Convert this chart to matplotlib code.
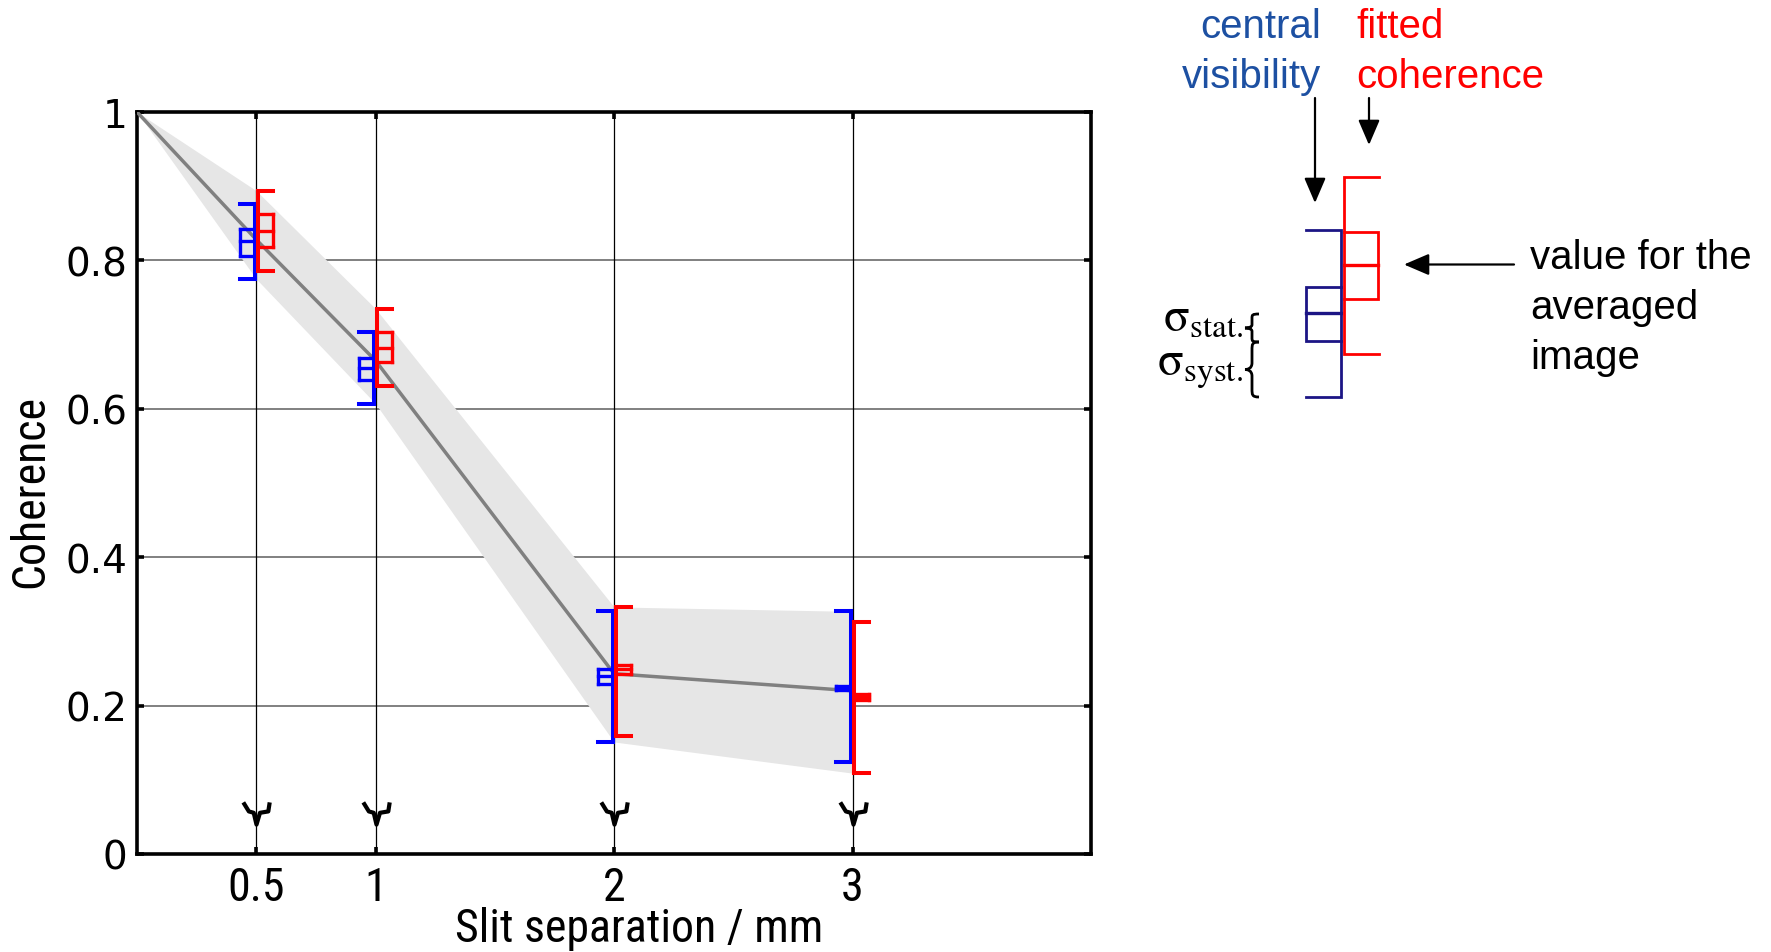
import numpy as np
import matplotlib
matplotlib.use('Agg')
from matplotlib import pyplot as plt
import matplotlib.font_manager as fm
from matplotlib.path import Path
from matplotlib.patches import PathPatch

# measured coherence at each slit separation (mm)
slit_mm = [0.5, 1, 2, 3]

# central visibility (blue): value, statistical box, systematic whiskers
vis_value = [0.826, 0.655, 0.240, 0.224]
vis_stat_lo = [0.806, 0.639, 0.229, 0.221]
vis_stat_hi = [0.842, 0.669, 0.250, 0.227]
vis_syst_lo = [0.775, 0.607, 0.151, 0.124]
vis_syst_hi = [0.876, 0.703, 0.327, 0.327]

# fitted coherence (red)
fit_value = [0.840, 0.682, 0.249, 0.211]
fit_stat_lo = [0.818, 0.663, 0.243, 0.207]
fit_stat_hi = [0.863, 0.703, 0.255, 0.216]
fit_syst_lo = [0.786, 0.631, 0.159, 0.109]
fit_syst_hi = [0.894, 0.735, 0.333, 0.313]

# grey model curve, starts at full coherence for zero separation
model_x = [0, 0.5, 1, 2, 3]
model_y = [1, 0.828, 0.665, 0.243, 0.220]

x_ticks = [0.5, 1, 2, 3]
x_labels = ['0.5', '1', '2', '3']
y_ticks = [0, 0.2, 0.4, 0.6, 0.8, 1]
y_labels = ['0', '0.2', '0.4', '0.6', '0.8', '1']

# pick a narrow sans font if there is one
names = {f.name for f in fm.fontManager.ttflist}
narrow = 'Liberation Sans'
for n in ['Liberation Sans Narrow', 'Roboto Condensed', 'Open Sans Condensed', 'Noto Sans Condensed']:
    if n in names:
        narrow = n
        break

plt.rcParams['mathtext.fontset'] = 'stix'

W, H = 1771, 953
fig = plt.figure(figsize=(W / 100, H / 100), dpi=100)
ax = fig.add_axes([137 / W, 1 - 855 / H, (1091 - 137) / W, (855 - 113) / H])
ax.set_xlim(0, 4)
ax.set_ylim(0, 1)

# grid: grey horizontals under the band, black verticals on top
for yv in y_ticks[1:-1]:
    ax.axhline(yv, color='#808080', lw=1.4, zorder=0.5)
for xv in x_ticks:
    ax.axvline(xv, color='black', lw=0.9, zorder=2)

# shaded band = envelope of all the whiskers
band_hi = np.concatenate([[1], np.maximum(vis_syst_hi, fit_syst_hi)])
band_lo = np.concatenate([[1], np.minimum(vis_syst_lo, fit_syst_lo)])
ax.fill_between(model_x, band_lo, band_hi, color='#e6e6e6', lw=0, zorder=1)
ax.plot(model_x, model_y, color='#808080', lw=2.5, zorder=3)

# box + whisker markers
px = 954 / 4.0
dx = 1.5 / px
cw = 15 / px


def draw_bars(x, value, slo, shi, wlo, whi, color, side):
    x = np.asarray(x, dtype=float)
    xc = x + side * dx
    xe = xc + side * cw
    kw = dict(color=color, zorder=5, capstyle='projecting')
    ax.vlines(xc, wlo, whi, lw=2.9, **kw)
    ax.hlines(wlo, xc, xe, lw=2.9, **kw)
    ax.hlines(whi, xc, xe, lw=2.9, **kw)
    ax.hlines(slo, xc, xe, lw=2.4, **kw)
    ax.hlines(shi, xc, xe, lw=2.4, **kw)
    ax.vlines(xe, slo, shi, lw=2.4, **kw)
    ax.hlines(value, xc, xe, lw=2.4, **kw)


draw_bars(slit_mm, vis_value, vis_stat_lo, vis_stat_hi, vis_syst_lo, vis_syst_hi, '#0000ff', -1)
draw_bars(slit_mm, fit_value, fit_stat_lo, fit_stat_hi, fit_syst_lo, fit_syst_hi, '#ff0000', 1)

# small arrow heads at the bottom of each measured separation
head = Path([(-0.95, 0.8), (-0.55, 0.15), (-0.2, 0.05), (0, -0.8),
             (0.25, 0.05), (0.85, 0.15), (0.95, 0.8)])
ax.plot(slit_mm, [0.055] * len(slit_mm), ls='none', marker=head, ms=19,
        mfc='none', mec='black', mew=3, zorder=6)

# axes styling
for s in ax.spines.values():
    s.set_linewidth(2.6)
ax.tick_params(direction='in', top=True, right=True, length=5, width=2.6)
ax.set_xticks(x_ticks)
ax.set_xticklabels(x_labels, fontfamily=narrow, fontsize=33)
ax.set_yticks(y_ticks)
ax.set_yticklabels(y_labels, fontfamily='DejaVu Sans', fontsize=28)
ax.tick_params(axis='x', pad=8)
ax.tick_params(axis='y', pad=7)
ax.set_xlabel('Slit separation / mm', fontfamily=narrow, fontsize=33)
ax.xaxis.label.set_va('center')
ax.xaxis.set_label_coords(0.526, -0.1)
ax.set_ylabel('Coherence', fontfamily=narrow, fontsize=33)
ax.yaxis.label.set_va('center')
ax.yaxis.set_label_coords(-0.112, 0.49)

# explanation sketch on the right, in pixel coordinates
ov = fig.add_axes([0, 0, 1, 1])
ov.set_xlim(0, W)
ov.set_ylim(H, 0)
ov.axis('off')

navy = '#1c1585'
red = '#ff0000'
ov.plot([1306, 1340.7, 1340.7, 1306], [231, 231, 398, 398], color=navy, lw=2, solid_joinstyle='miter')
ov.plot([1340.7, 1306, 1306, 1340.7], [288.3, 288.3, 341.7, 341.7], color=navy, lw=2, solid_joinstyle='miter')
ov.plot([1306, 1340.7], [314, 314], color=navy, lw=2.4)
ov.plot([1379, 1344, 1344, 1379], [178.3, 178.3, 355, 355], color=red, lw=2, solid_joinstyle='miter')
ov.plot([1344, 1378.5, 1378.5, 1344], [232.7, 232.7, 300, 300], color=red, lw=2, solid_joinstyle='miter')
ov.plot([1344, 1378.5], [265.7, 265.7], color=red, lw=2.4)

txt = dict(fontfamily='Liberation Sans', fontsize=29, va='baseline')
ov.text(1321, 38, 'central', color='#1d50a2', ha='right', **txt)
ov.text(1321, 88, 'visibility', color='#1d50a2', ha='right', **txt)
ov.text(1356, 38, 'fitted', color=red, ha='left', **txt)
ov.text(1356, 88, 'coherence', color=red, ha='left', **txt)
ov.text(1530, 269, 'value for the', color='black', ha='left', **txt)
ov.text(1530, 319, 'averaged', color='black', ha='left', **txt)
ov.text(1530, 369, 'image', color='black', ha='left', **txt)

arrow = dict(arrowstyle='-|>,head_length=0.7,head_width=0.3', color='black',
             lw=1.6, mutation_scale=22, shrinkA=0, shrinkB=0)
ov.annotate('', xy=(1315, 204), xytext=(1315, 99), arrowprops=arrow)
ov.annotate('', xy=(1369, 146), xytext=(1369, 99), arrowprops=arrow)
ov.annotate('', xy=(1404, 265.5), xytext=(1514, 265.5), arrowprops=arrow)

ov.text(1243, 319, r'$\mathrm{σ_{stat.}}$', fontsize=34, ha='right', va='center')
ov.text(1243, 369, r'$\mathrm{σ_{syst.}}$', fontsize=34, ha='right', va='center')


def brace(x, y0, y1, w):
    h = y1 - y0
    ym = (y0 + y1) / 2
    xm = x + 0.5 * w
    verts = [(x + w, y0),
             (xm, y0), (xm, y0 + 0.04 * h), (xm, y0 + 0.15 * h),
             (xm, ym - 0.12 * h),
             (xm, ym - 0.02 * h), (x + 0.2 * w, ym), (x, ym),
             (x + 0.2 * w, ym), (xm, ym + 0.02 * h), (xm, ym + 0.12 * h),
             (xm, y1 - 0.15 * h),
             (xm, y1 - 0.04 * h), (xm, y1), (x + w, y1)]
    codes = ([Path.MOVETO] + [Path.CURVE4] * 3 + [Path.LINETO] + [Path.CURVE4] * 6
             + [Path.LINETO] + [Path.CURVE4] * 3)
    ov.add_patch(PathPatch(Path(verts, codes), fill=False, lw=2, color='black'))


brace(1245, 315, 343, 14)
brace(1245, 343, 398, 14)

fig.savefig('out.png', dpi=100)
